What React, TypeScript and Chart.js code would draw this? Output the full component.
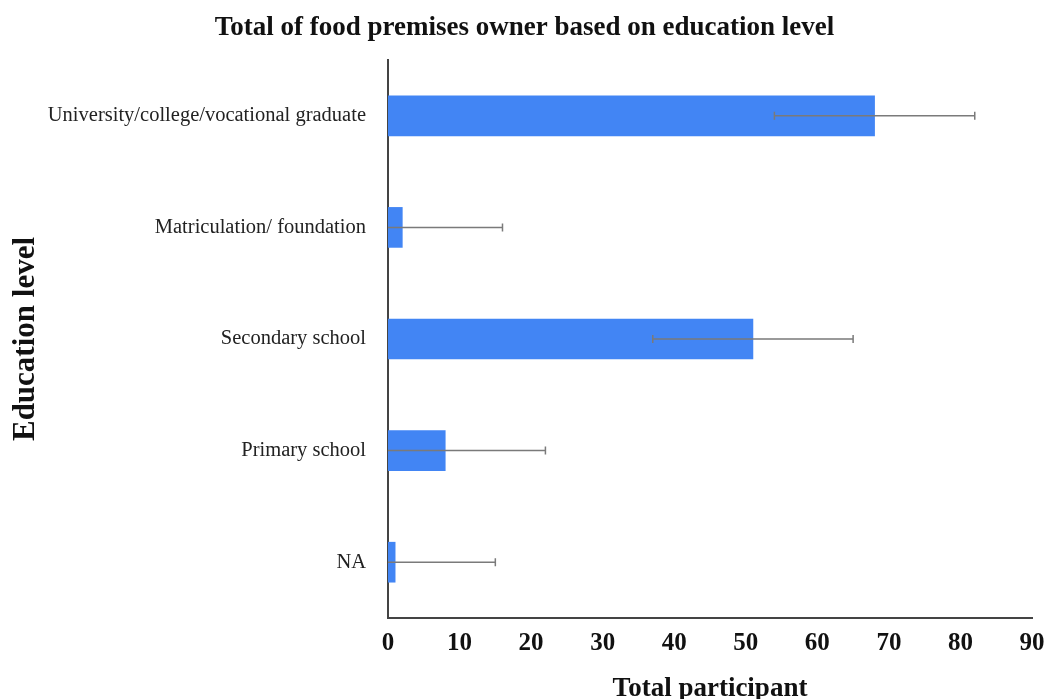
import React, { useEffect, useRef } from 'react';
import { Chart, registerables } from 'chart.js';

Chart.register(...registerables);

const categories = [
  'University/college/vocational graduate',
  'Matriculation/ foundation',
  'Secondary school',
  'Primary school',
  'NA',
];
const totals = [68, 2, 51, 8, 1];
const errors = [14, 14, 14, 14, 14];
const xTickMin = 0;
const xTickMax = 90;
const xTickStep = 10;

const FONT = "'Liberation Serif', 'Times New Roman', serif";

const errorBarPlugin = {
  id: 'errorBars',
  afterDatasetsDraw(chart: any) {
    const meta = chart.getDatasetMeta(0);
    const xs = chart.scales.x;
    const ctx = chart.ctx;
    ctx.save();
    ctx.strokeStyle = '#7a7a7a';
    ctx.lineWidth = 1.5;
    meta.data.forEach((bar: any, i: number) => {
      const v = totals[i];
      const e = errors[i];
      const lowV = Math.max(0, v - e);
      const x0 = xs.getPixelForValue(lowV);
      const x1 = xs.getPixelForValue(v + e);
      const y = bar.y;
      ctx.beginPath();
      ctx.moveTo(x0, y);
      ctx.lineTo(x1, y);
      ctx.moveTo(x1, y - 4);
      ctx.lineTo(x1, y + 4);
      if (v - e > 0) {
        ctx.moveTo(x0, y - 4);
        ctx.lineTo(x0, y + 4);
      }
      ctx.stroke();
    });
    ctx.restore();
  },
};

export default function App() {
  const ref = useRef<HTMLCanvasElement>(null);
  useEffect(() => {
    if (!ref.current) return;
    const chart = new Chart(ref.current, {
      type: 'bar',
      data: {
        labels: categories,
        datasets: [
          {
            data: totals,
            backgroundColor: '#4285F4',
            borderWidth: 0,
            barThickness: 40,
          },
        ],
      },
      options: {
        indexAxis: 'y',
        responsive: false,
        animation: false,
        layout: { padding: { left: 0, right: 0, top: 0, bottom: 0 } },
        plugins: {
          legend: { display: false },
          tooltip: { enabled: false },
          title: {
            display: true,
            text: 'Total of food premises owner based on education level',
            color: '#111',
            font: { family: FONT, size: 27, weight: 'bold', lineHeight: 1.2 },
            padding: { top: 12, bottom: 15.6 },
          },
        },
        scales: {
          y: {
            type: 'category',
            grid: { display: false, drawTicks: false },
            border: { display: true, color: '#444', width: 2 },
            ticks: {
              color: '#222',
              font: { family: FONT, size: 20.5 },
              padding: 22,
            },
            title: {
              display: true,
              text: 'Education level',
              color: '#111',
              font: { family: FONT, size: 31, weight: 'bold', lineHeight: 1.0 },
              padding: { top: 10, bottom: 0 },
            },
            afterFit(scale: any) {
              scale.width = 388;
            },
          },
          x: {
            type: 'linear',
            min: xTickMin,
            max: xTickMax,
            grid: { display: false, drawTicks: false },
            border: { display: true, color: '#444', width: 2 },
            ticks: {
              stepSize: xTickStep,
              color: '#111',
              font: { family: FONT, size: 25, weight: 'bold' },
              padding: 11,
            },
            title: {
              display: true,
              text: 'Total participant',
              color: '#111',
              font: { family: FONT, size: 27, weight: 'bold', lineHeight: 0.75 },
              padding: { top: 0, bottom: 0 },
            },
            afterFit(scale: any) {
              scale.height = 81;
              scale.paddingRight = 17;
              scale.paddingLeft = 0;
            },
          },
        },
      },
      plugins: [errorBarPlugin],
    });
    return () => chart.destroy();
  }, []);
  return (
    <div style={{ position: 'fixed', left: 0, top: 0, width: 1049, height: 699, background: '#fff' }}>
      <canvas ref={ref} width={1049} height={699} />
    </div>
  );
}
